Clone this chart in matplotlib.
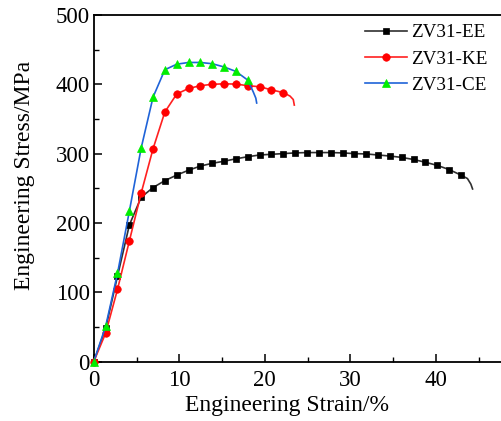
import matplotlib
matplotlib.use("Agg")
import matplotlib.pyplot as plt
from matplotlib.ticker import MultipleLocator

plt.rcParams['font.family'] = ['Liberation Serif', 'DejaVu Serif']

# ---- data ----
strain_ee = [0, 1.39, 2.77, 4.16, 5.54, 6.93, 8.31, 9.70, 11.08, 12.47, 13.85, 15.24,
             16.62, 18.01, 19.39, 20.78, 22.16, 23.55, 24.93, 26.32, 27.70, 29.09,
             30.47, 31.86, 33.24, 34.63, 36.01, 37.40, 38.78, 40.17, 41.55, 42.94]
stress_ee = [0, 48, 123, 197, 237, 251, 261, 269, 276, 282, 286, 289,
             292.5, 295.5, 298, 299, 300, 301, 301.5, 301.5, 301.5, 301,
             300, 299.5, 298, 296.5, 294.5, 291.5, 287.5, 283, 277, 269]
tail_strain_ee = [43.7, 44.1, 44.3]
tail_stress_ee = [264, 256, 249]

strain_ke = [0, 1.39, 2.77, 4.16, 5.54, 6.93, 8.31, 9.70, 11.08, 12.47, 13.85, 15.24,
             16.62, 18.01, 19.39, 20.78, 22.16]
stress_ke = [0, 41, 104, 174, 243, 307, 360, 386, 394, 398, 400, 400.7,
             400.3, 398, 396.5, 392, 388]
tail_strain_ke = [22.95, 23.33, 23.45]
tail_stress_ke = [383, 378, 370]

strain_ce = [0, 1.39, 2.77, 4.16, 5.54, 6.93, 8.31, 9.70, 11.08, 12.47, 13.85, 15.24,
             16.62, 18.01]
stress_ce = [0, 51, 127, 217, 308, 381.5, 421, 429, 431.5, 431.5, 429.7, 425,
             418.6, 406]
tail_strain_ce = [18.65, 18.95, 19.05]
tail_stress_ce = [389, 380, 373]

labels = ["ZV31-EE", "ZV31-KE", "ZV31-CE"]
x_ticks = [0, 10, 20, 30, 40]
y_ticks = [0, 100, 200, 300, 400, 500]

# ---- figure ----
W, H = 501, 421
fig = plt.figure(figsize=(W / 100, H / 100), dpi=100)
ax = fig.add_axes([93.8 / W, (H - 361.5) / H, 410.4 / W, 346.5 / H])

series = [
    (strain_ee, stress_ee, tail_strain_ee, tail_stress_ee, '#303030', 's', '#000000', 4.8, labels[0]),
    (strain_ke, stress_ke, tail_strain_ke, tail_stress_ke, '#ff2020', 'o', '#ff0000', 5.4, labels[1]),
    (strain_ce, stress_ce, tail_strain_ce, tail_stress_ce, '#1f63d8', '^', '#00ee00', 6.4, labels[2]),
]
for xs, ys, tx, ty, lc, m, mc, ms, lab in series:
    ax.plot(list(xs) + list(tx), list(ys) + list(ty), color=lc, lw=1.2,
            marker=m, markersize=ms, markerfacecolor=mc, markeredgecolor=mc,
            markeredgewidth=0.5, markevery=list(range(len(xs))), label=lab,
            clip_on=False, zorder=3)

ax.set_xlim(0, 48)
ax.set_ylim(0, 500)
ax.set_xticks(x_ticks)
ax.set_yticks(y_ticks)
ax.xaxis.set_minor_locator(MultipleLocator(5))
ax.yaxis.set_minor_locator(MultipleLocator(50))
ax.tick_params(which='major', direction='in', length=6, width=1.1, labelsize=16.5)
ax.tick_params(axis='x', which='major', pad=6)
ax.tick_params(axis='y', which='major', pad=3)
ax.tick_params(which='minor', direction='in', length=3.5, width=1.0)
ax.tick_params(top=False, right=False, which='both')
for s in ['left', 'bottom', 'top']:
    ax.spines[s].set_linewidth(1.3)
ax.spines['right'].set_visible(False)

ax.set_xlabel("Engineering Strain/%", fontsize=17)
ax.set_ylabel("Engineering Stress/MPa", fontsize=17)
ax.xaxis.label.set_va('center')
ax.yaxis.label.set_va('center')
ax.xaxis.set_label_coords(0.471, -0.128)
ax.yaxis.set_label_coords(-0.168, 0.538)

leg = ax.legend(loc='upper left', bbox_to_anchor=(365 / W, 1 - 24 / H),
                bbox_transform=fig.transFigure, frameon=False, fontsize=13.8,
                handlelength=2.2, handletextpad=0.2, labelspacing=0.46,
                borderpad=0, borderaxespad=0)

fig.savefig("out.png", dpi=100)
